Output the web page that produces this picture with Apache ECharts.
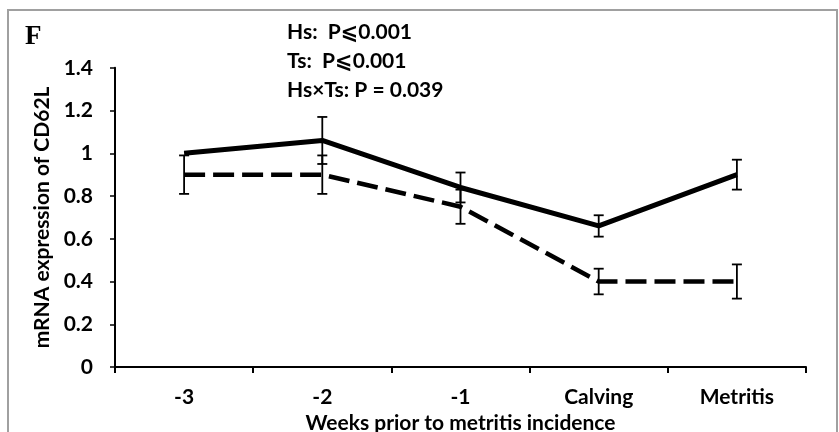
<!DOCTYPE html>
<html><head><meta charset="utf-8">
<script src="https://cdn.jsdelivr.net/npm/echarts@6/dist/echarts.min.js"></script>
<style>html,body{margin:0;padding:0;background:#fff}#c{width:839px;height:432px}</style>
</head><body><div id="c"></div>
<script>
const categories = ['-3', '-2', '-1', 'Calving', 'Metritis'];
const healthyMean = [1.0, 1.06, 0.84, 0.66, 0.90];
const healthyErr = [null, 0.11, 0.07, 0.05, 0.07];
const metritisMean = [0.90, 0.90, 0.75, 0.40, 0.40];
const metritisErr = [0.09, 0.09, 0.08, 0.06, 0.08];
const yTicks = [0, 0.2, 0.4, 0.6, 0.8, 1, 1.2, 1.4];
const statLines = ['Hs:  P\u2A7D0.001', 'Ts:  P\u2A7D0.001', 'Hs\u00D7Ts: P = 0.039'];

const FONT = 'Lato, "Open Sans", "DejaVu Sans", sans-serif';

function errData(mean, err) {
  const out = [];
  mean.forEach((m, i) => { if (err[i] != null) out.push([i, m - err[i], m + err[i]]); });
  return out;
}
function errRender(params, api) {
  const x = api.value(0);
  const lo = api.coord([x, api.value(1)]);
  const hi = api.coord([x, api.value(2)]);
  const cap = 5;
  const st = { stroke: '#000', lineWidth: 1.8 };
  return { type: 'group', children: [
    { type: 'line', shape: { x1: lo[0], y1: lo[1], x2: hi[0], y2: hi[1] }, style: st },
    { type: 'line', shape: { x1: lo[0] - cap, y1: lo[1], x2: lo[0] + cap, y2: lo[1] }, style: st },
    { type: 'line', shape: { x1: hi[0] - cap, y1: hi[1], x2: hi[0] + cap, y2: hi[1] }, style: st }
  ]};
}

const chart = echarts.init(document.getElementById('c'), null, { renderer: 'canvas' });
chart.setOption({
  animation: false,
  backgroundColor: '#fff',
  grid: { left: 115, right: 33, top: 67.8, bottom: 65, containLabel: false, outerBoundsMode: 'none' },
  xAxis: {
    type: 'category', data: categories, boundaryGap: true,
    name: 'Weeks prior to metritis incidence', nameLocation: 'middle', nameGap: 43,
    nameTextStyle: { fontFamily: FONT, fontWeight: 'bold', fontSize: 21, color: '#000' },
    axisLine: { lineStyle: { color: '#000', width: 2 } },
    axisTick: { show: true, length: 6, lineStyle: { color: '#000', width: 2 } },
    axisLabel: { fontFamily: FONT, fontWeight: 'bold', fontSize: 21, color: '#000', margin: 20 }
  },
  yAxis: {
    type: 'value', min: 0, max: 1.4, interval: 0.2,
    name: 'mRNA expression of CD62L', nameLocation: 'middle', nameGap: 60, nameRotate: 90,
    nameTextStyle: { fontFamily: FONT, fontWeight: 'bold', fontSize: 21, color: '#000' },
    axisLine: { show: true, lineStyle: { color: '#000', width: 2 } },
    axisTick: { show: true, length: 5, lineStyle: { color: '#000', width: 1.5 } },
    splitLine: { show: false },
    axisLabel: { fontFamily: FONT, fontWeight: 'bold', fontSize: 21, color: '#000', margin: 22,
      formatter: v => { const t = yTicks.find(k => Math.abs(k - v) < 1e-9); return t === undefined ? '' : String(t); } }
  },
  series: [
    { type: 'line', name: 'Healthy', data: healthyMean, symbol: 'none',
      lineStyle: { color: '#000', width: 5 }, z: 3 },
    { type: 'line', name: 'Metritis', data: metritisMean, symbol: 'none',
      lineStyle: { color: '#000', width: 4.5, type: [21, 8] }, z: 3 },
    { type: 'custom', renderItem: errRender, data: errData(healthyMean, healthyErr), z: 4 },
    { type: 'custom', renderItem: errRender, data: errData(metritisMean, metritisErr), z: 4 }
  ],
  graphic: [
    { type: 'rect', shape: { x: 8, y: 10, width: 829, height: 440 },
      style: { fill: 'none', stroke: '#a0a0a0', lineWidth: 2 }, z: 0 },
    { type: 'text', left: 25, top: 24,
      style: { text: 'F', font: 'bold 27px "Liberation Serif", "DejaVu Serif", serif', fill: '#000' } },
    { type: 'text', left: 287, top: 22,
      style: { text: statLines[0], font: 'bold 21px ' + FONT, fill: '#000' } },
    { type: 'text', left: 287, top: 51,
      style: { text: statLines[1], font: 'bold 21px ' + FONT, fill: '#000' } },
    { type: 'text', left: 287, top: 80,
      style: { text: statLines[2], font: 'bold 21px ' + FONT, fill: '#000' } }
  ]
});
</script></body></html>
